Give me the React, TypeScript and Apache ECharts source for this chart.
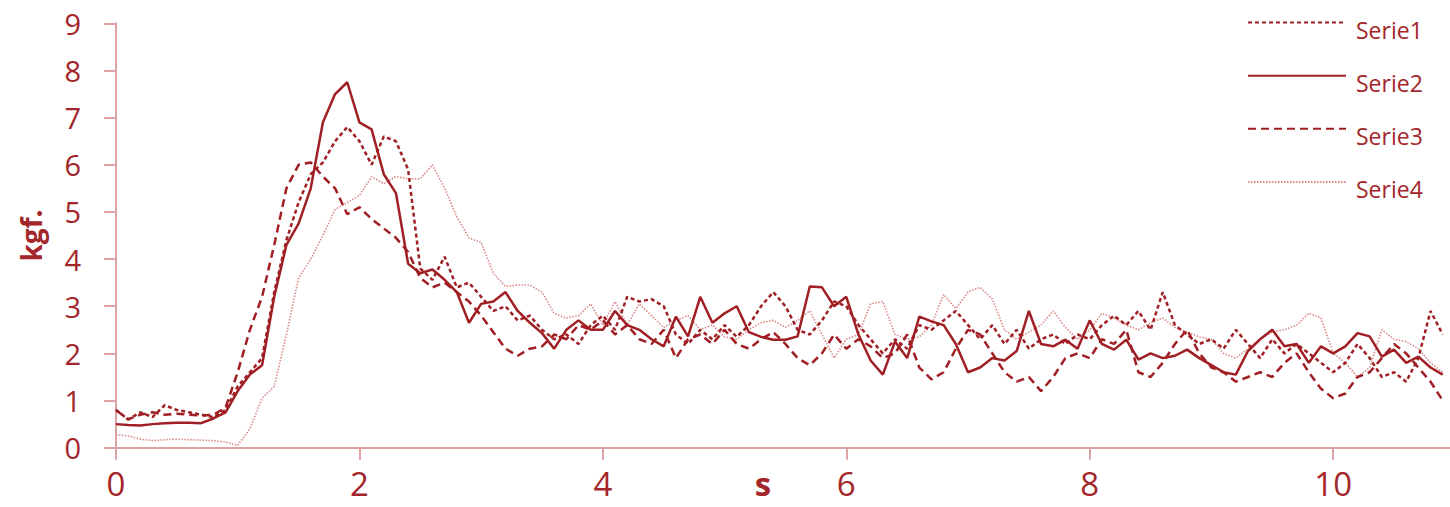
import React, { useEffect, useRef } from "react";
import * as echarts from "echarts";

// sampling grid (seconds)
const TIME_S: number[] = Array.from({ length: 110 }, (_, i) => i / 10);

const SERIE1 = [
  0.8, 0.6, 0.75, 0.65, 0.9, 0.8, 0.75, 0.7, 0.65, 0.8,
  1.3, 1.6, 1.9, 3.3, 4.4, 5.2, 5.8, 6.05, 6.5, 6.8,
  6.5, 6.0, 6.6, 6.5, 5.9, 3.8, 3.56, 4.05, 3.4, 3.5,
  3.2, 2.9, 3.0, 2.7, 2.8, 2.5, 2.3, 2.4, 2.2, 2.6,
  2.8, 2.5, 3.2, 3.1, 3.15, 3.0, 2.4, 2.2, 2.5, 2.3,
  2.6, 2.35, 2.6, 3.0, 3.3, 3.0, 2.5, 2.4, 2.7, 3.1,
  3.0, 2.6, 2.3, 2.0, 2.3, 2.1, 2.6, 2.5, 2.7, 2.9,
  2.6, 2.3, 2.6, 2.2, 2.5, 2.1, 2.3, 2.4, 2.2, 2.4,
  2.3, 2.6, 2.8, 2.6, 2.9, 2.5, 3.3, 2.6, 2.4, 2.2,
  2.3, 2.1, 2.5, 2.2, 1.9, 2.3, 2.0, 2.2, 2.0, 1.8,
  1.6, 1.8, 2.2, 1.9, 1.5, 1.6, 1.4, 1.9, 2.9, 2.4,
];

const SERIE2 = [
  0.5, 0.48, 0.47, 0.5, 0.52, 0.53, 0.53, 0.52, 0.62, 0.75,
  1.2, 1.55, 1.75, 3.2, 4.3, 4.75, 5.5, 6.9, 7.5, 7.75,
  6.9, 6.75, 5.8, 5.4, 3.9, 3.7, 3.78, 3.56, 3.3, 2.65,
  3.05, 3.1, 3.3, 2.9, 2.65, 2.43, 2.1, 2.5, 2.7, 2.5,
  2.5, 2.9, 2.6, 2.5, 2.3, 2.15, 2.78, 2.36, 3.2, 2.65,
  2.85, 3.0, 2.45, 2.35, 2.29, 2.29, 2.36, 3.42, 3.4, 3.0,
  3.2, 2.4, 1.85, 1.55, 2.25, 1.9, 2.78, 2.68, 2.6, 2.2,
  1.6, 1.7, 1.9, 1.85, 2.05, 2.9, 2.2, 2.15, 2.29, 2.1,
  2.7, 2.2, 2.08, 2.29, 1.87, 2.0, 1.9, 1.95, 2.08, 1.9,
  1.75, 1.6, 1.55, 2.05, 2.3, 2.5, 2.15, 2.2, 1.8, 2.15,
  2.0, 2.15, 2.43, 2.36, 1.93, 2.08, 1.8, 1.93, 1.7, 1.55,
];

const SERIE3 = [
  0.8, 0.6, 0.7, 0.75, 0.7, 0.72, 0.7, 0.68, 0.7, 0.85,
  1.6, 2.5, 3.2, 4.3, 5.5, 6.0, 6.05, 5.75, 5.5, 4.95,
  5.1, 4.85, 4.65, 4.45, 4.15, 3.6, 3.4, 3.5, 3.3, 3.1,
  2.8, 2.45, 2.1, 1.95, 2.1, 2.15, 2.4, 2.3, 2.6, 2.5,
  2.7, 2.4, 2.6, 2.3, 2.2, 2.5, 1.9, 2.3, 2.4, 2.2,
  2.5, 2.2, 2.1, 2.3, 2.45, 2.2, 1.9, 1.75, 2.0, 2.4,
  2.1, 2.3, 2.15, 1.9, 2.0, 2.4, 1.7, 1.45, 1.6, 2.1,
  2.5, 2.4, 2.0, 1.6, 1.4, 1.5, 1.2, 1.5, 1.9, 2.0,
  1.9, 2.3, 2.2, 2.5, 1.6, 1.5, 1.8, 2.2, 2.5, 2.0,
  1.7, 1.6, 1.4, 1.5, 1.6, 1.5, 1.8, 2.0, 1.6, 1.25,
  1.05, 1.15, 1.5, 1.6, 1.9, 2.2, 2.0, 1.7, 1.4, 1.0,
];

const SERIE4 = [
  0.28, 0.25, 0.18, 0.15, 0.17, 0.18, 0.17, 0.16, 0.15, 0.12,
  0.05, 0.4, 1.05, 1.3, 2.4, 3.6, 4.0, 4.5, 5.05, 5.2,
  5.35, 5.75, 5.6, 5.75, 5.7, 5.7, 6.0, 5.5, 4.9, 4.45,
  4.35, 3.7, 3.42, 3.45, 3.45, 3.3, 2.85, 2.75, 2.8, 3.05,
  2.6, 3.1, 2.6, 3.05, 2.8, 2.55, 2.7, 2.8, 2.5, 2.6,
  2.35, 2.3, 2.5, 2.65, 2.7, 2.55, 2.7, 2.9, 2.4, 1.9,
  2.3, 2.4, 3.05, 3.1, 2.4, 2.3, 2.35, 2.6, 3.25, 2.95,
  3.3, 3.4, 3.15, 2.5, 2.3, 2.45, 2.6, 2.9, 2.55, 2.3,
  2.5, 2.85, 2.75, 2.6, 2.5, 2.65, 2.75, 2.55, 2.45, 2.35,
  2.3, 2.0, 1.9, 2.1, 2.3, 2.45, 2.5, 2.6, 2.85, 2.75,
  2.0, 1.8, 1.5, 1.7, 2.5, 2.3, 2.25, 2.1, 1.8, 1.6,
];

const SERIES_NAMES = ["Serie1", "Serie2", "Serie3", "Serie4"];
const X_TICKS = [0, 2, 4, 6, 8, 10];
const Y_TICKS = [0, 1, 2, 3, 4, 5, 6, 7, 8, 9];
const X_NAME = "s";
const Y_NAME = "kgf.";

const DARK = "#a01f24";
const LIGHT = "#d98a8a";
const AXIS = "#dea2a2";
const LABEL = "#a3262b";
const FONT = "'Open Sans', sans-serif";

export default function App() {
  const ref = useRef<HTMLDivElement>(null);

  useEffect(() => {
    document.body.style.margin = "0";
    const chart = echarts.init(ref.current!, null, { renderer: "svg" });
    const values = [SERIE1, SERIE2, SERIE3, SERIE4];
    const styles = [
      { color: DARK, width: 2.5, type: [4, 3] },
      { color: DARK, width: 2.5, type: "solid" },
      { color: DARK, width: 2.5, type: [8, 5] },
      { color: LIGHT, width: 1.6, type: [1.5, 1.5] },
    ];
    chart.setOption({
      animation: false,
      textStyle: { fontFamily: FONT },
      grid: {
        left: 116,
        right: 0,
        top: 23.3,
        bottom: 59.3,
        containLabel: false,
        outerBoundsMode: "none",
      },
      legend: {
        orient: "vertical",
        left: 1247,
        top: 17,
        padding: 0,
        itemWidth: 98,
        itemHeight: 14,
        itemGap: 29,
        itemStyle: { opacity: 0 },
        data: SERIES_NAMES,
        formatter: "{t|{name}}",
        textStyle: {
          color: LABEL,
          fontSize: 23,
          fontFamily: FONT,
          rich: {
            t: {
              color: LABEL,
              fontSize: 23,
              fontFamily: FONT,
              padding: [14, 0, 0, 5],
            },
          },
        },
      },
      xAxis: {
        type: "value",
        min: 0,
        max: 10.96,
        interval: 2,
        name: X_NAME,
        nameLocation: "middle",
        nameGap: 19,
        nameMoveOverlap: false,
        nameTextStyle: {
          color: LABEL,
          fontSize: 33,
          fontWeight: "bold",
          fontFamily: FONT,
          padding: [0, 40, 0, 0],
        },
        axisLine: { show: true, lineStyle: { color: AXIS, width: 2 } },
        axisTick: {
          show: true,
          length: 12,
          customValues: X_TICKS,
          lineStyle: { color: AXIS, width: 2 },
        },
        axisLabel: {
          customValues: X_TICKS,
          color: LABEL,
          fontSize: 33,
          fontFamily: FONT,
          margin: 19,
        },
        splitLine: { show: false },
      },
      yAxis: {
        type: "value",
        min: 0,
        max: 9,
        interval: 1,
        name: Y_NAME,
        nameLocation: "middle",
        nameGap: 71,
        nameMoveOverlap: false,
        nameTextStyle: {
          color: LABEL,
          fontSize: 28,
          fontWeight: "bold",
          fontFamily: FONT,
        },
        axisLine: { show: true, lineStyle: { color: AXIS, width: 2 } },
        axisTick: {
          show: true,
          length: 12,
          customValues: Y_TICKS,
          lineStyle: { color: AXIS, width: 2 },
        },
        axisLabel: {
          customValues: Y_TICKS,
          color: LABEL,
          fontSize: 29,
          fontFamily: FONT,
          margin: 35,
        },
        splitLine: { show: false },
      },
      series: SERIES_NAMES.map((name, k) => ({
        name,
        type: "line",
        symbol: "none",
        showSymbol: false,
        clip: true,
        color: styles[k].color,
        lineStyle: styles[k],
        data: TIME_S.map((t, i) => [t, values[k][i]]),
        z: 4 - k,
      })),
    });
    return () => chart.dispose();
  }, []);

  return <div ref={ref} style={{ width: 1450, height: 507 }} />;
}
